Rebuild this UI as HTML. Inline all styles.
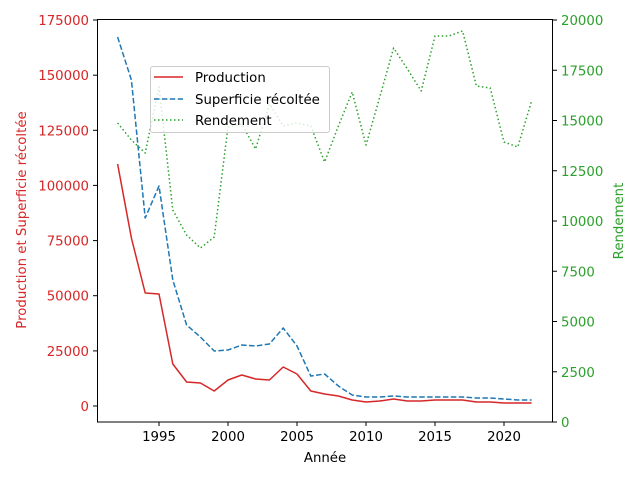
<!DOCTYPE html>
<html><head><meta charset="utf-8"><style>
html,body{margin:0;padding:0;background:#fff;}
svg{display:block;font-family:"DejaVu Sans","Liberation Sans",sans-serif;}
</style></head><body>
<svg width="640" height="480" viewBox="0 0 640 480" xmlns="http://www.w3.org/2000/svg">
<rect width="640" height="480" fill="#fff"/>
<!-- series -->
<polyline fill="none" stroke="#d62728" stroke-width="1.5" stroke-linejoin="round" points="117.6,164 131.4,238 145.2,293 159,294 172.8,364 186.6,382 200.4,383 214.2,391 228,380 241.8,375 255.6,379 269.4,380 283.2,367 297,374 310.8,391 324.6,394 338.4,396 352.2,400 366,402 379.8,401 393.6,399 407.4,401 421.2,401 435,400 448.8,400 462.6,400 476.4,402 490.2,402 504,403 517.8,403 531.6,403"/>
<polyline fill="none" stroke="#1f77b4" stroke-width="1.5" stroke-dasharray="5.5,2.4" stroke-linejoin="round" points="117.6,37 131.4,80 145.2,218 159,186 172.8,280 186.6,325 200.4,337 214.2,351 228,350 241.8,345 255.6,346 269.4,344 283.2,328 297,346 310.8,376 324.6,374 338.4,386 352.2,395 366,397 379.8,397 393.6,396 407.4,397 421.2,397 435,397 448.8,397 462.6,397 476.4,398 490.2,398 504,399 517.8,400 531.6,400"/>
<polyline fill="none" stroke="#2ca02c" stroke-width="1.5" stroke-dasharray="1.5,2.5" stroke-linejoin="round" points="117.6,123 131.4,140 145.2,153 159,87 172.8,210 186.6,235 200.4,248 214.2,237 228,127 241.8,124 255.6,149 269.4,104 283.2,126 297,123 310.8,126 324.6,162 338.4,126 352.2,92 366,145 379.8,97 393.6,48 407.4,69 421.2,91 435,36 448.8,36 462.6,31 476.4,86 490.2,88 504,142 517.8,147 531.6,101"/>
<!-- frame -->
<rect x="97.5" y="19.5" width="455" height="402.5" fill="none" stroke="#000" stroke-width="1"/>
<!-- left ticks -->
<g stroke="#000" stroke-width="1">
<line x1="93" x2="97" y1="406" y2="406"/><line x1="93" x2="97" y1="350.9" y2="350.9"/><line x1="93" x2="97" y1="295.7" y2="295.7"/><line x1="93" x2="97" y1="240.6" y2="240.6"/><line x1="93" x2="97" y1="185.4" y2="185.4"/><line x1="93" x2="97" y1="130.3" y2="130.3"/><line x1="93" x2="97" y1="75.2" y2="75.2"/><line x1="93" x2="97" y1="20" y2="20"/>
<line x1="553" x2="557" y1="422" y2="422"/><line x1="553" x2="557" y1="371.75" y2="371.75"/><line x1="553" x2="557" y1="321.5" y2="321.5"/><line x1="553" x2="557" y1="271.25" y2="271.25"/><line x1="553" x2="557" y1="221" y2="221"/><line x1="553" x2="557" y1="170.75" y2="170.75"/><line x1="553" x2="557" y1="120.5" y2="120.5"/><line x1="553" x2="557" y1="70.25" y2="70.25"/><line x1="553" x2="557" y1="20" y2="20"/>
<line x1="159" x2="159" y1="422" y2="426"/><line x1="228" x2="228" y1="422" y2="426"/><line x1="297" x2="297" y1="422" y2="426"/><line x1="366" x2="366" y1="422" y2="426"/><line x1="435" x2="435" y1="422" y2="426"/><line x1="504" x2="504" y1="422" y2="426"/>
</g>
<g font-size="13.3" fill="#d62728" text-anchor="end">
<text x="89" y="411">0</text><text x="89" y="356">25000</text><text x="89" y="300.7">50000</text><text x="89" y="245.6">75000</text><text x="89" y="190.4">100000</text><text x="89" y="135.3">125000</text><text x="89" y="80.2">150000</text><text x="89" y="25">175000</text>
</g>
<g font-size="13.3" fill="#2ca02c" text-anchor="start">
<text x="561" y="427">0</text><text x="561" y="376.75">2500</text><text x="561" y="326.5">5000</text><text x="561" y="276.25">7500</text><text x="561" y="226">10000</text><text x="561" y="175.75">12500</text><text x="561" y="125.5">15000</text><text x="561" y="75.25">17500</text><text x="561" y="25">20000</text>
</g>
<g font-size="13.3" fill="#000" text-anchor="middle">
<text x="159" y="441">1995</text><text x="228" y="441">2000</text><text x="297" y="441">2005</text><text x="366" y="441">2010</text><text x="435" y="441">2015</text><text x="504" y="441">2020</text>
<text x="325" y="462">Année</text>
</g>
<text transform="translate(26,220) rotate(-90)" font-size="13.3" fill="#d62728" text-anchor="middle">Production et Superficie récoltée</text>
<text transform="translate(623,221) rotate(-90)" font-size="13.3" fill="#2ca02c" text-anchor="middle">Rendement</text>
<!-- legend -->
<rect x="150.5" y="66.5" width="179" height="66" rx="2.5" fill="#fff" fill-opacity="0.8" stroke="#ccc" stroke-width="1"/>
<line x1="154" x2="183" y1="77" y2="77" stroke="#d62728" stroke-width="1.5"/>
<line x1="154" x2="183" y1="99" y2="99" stroke="#1f77b4" stroke-width="1.5" stroke-dasharray="5.5,2.4"/>
<line x1="154" x2="183" y1="120" y2="120" stroke="#2ca02c" stroke-width="1.5" stroke-dasharray="1.5,2.5"/>
<g font-size="13.3" fill="#000">
<text x="195" y="82">Production</text><text x="195" y="104">Superficie récoltée</text><text x="195" y="125">Rendement</text>
</g>
</svg>
</body></html>
